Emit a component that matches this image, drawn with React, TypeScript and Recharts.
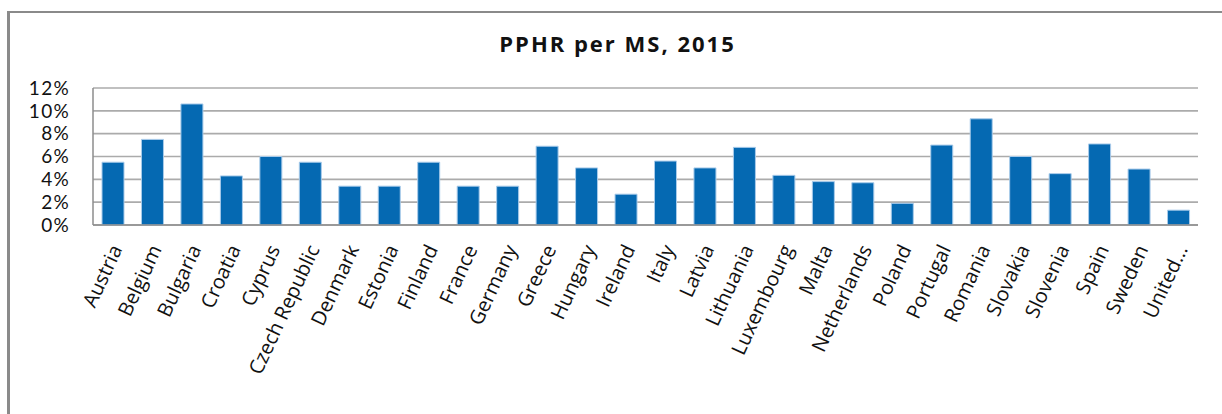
import React from "react";
import { BarChart, Bar, XAxis, YAxis, CartesianGrid } from "recharts";

const countries = [
  "Austria", "Belgium", "Bulgaria", "Croatia", "Cyprus", "Czech Republic", "Denmark",
  "Estonia", "Finland", "France", "Germany", "Greece", "Hungary", "Ireland", "Italy",
  "Latvia", "Lithuania", "Luxembourg", "Malta", "Netherlands", "Poland", "Portugal",
  "Romania", "Slovakia", "Slovenia", "Spain", "Sweden", "United Kingdom",
];

const tickLabels = [
  "Austria", "Belgium", "Bulgaria", "Croatia", "Cyprus", "Czech Republic", "Denmark",
  "Estonia", "Finland", "France", "Germany", "Greece", "Hungary", "Ireland", "Italy",
  "Latvia", "Lithuania", "Luxembourg", "Malta", "Netherlands", "Poland", "Portugal",
  "Romania", "Slovakia", "Slovenia", "Spain", "Sweden", "United...",
];

const pphr = [
  5.5, 7.5, 10.6, 4.3, 6.0, 5.5, 3.4,
  3.4, 5.5, 3.4, 3.4, 6.9, 5.0, 2.7, 5.6,
  5.0, 6.8, 4.35, 3.8, 3.7, 1.9, 7.0,
  9.3, 6.0, 4.5, 7.1, 4.9, 1.3,
];

const yTicks = [0, 2, 4, 6, 8, 10, 12];

const data = countries.map((c, i) => ({ country: c, label: tickLabels[i], value: pphr[i] }));

const FONT = "'Open Sans', sans-serif";

const XTick = (props: any) => {
  const { x, y, payload } = props;
  const label = tickLabels[payload.index] ?? payload.value;
  return (
    <g transform={`translate(${x + 10},${y + 24})`}>
      <text
        transform="rotate(-65)"
        textAnchor="end"
        fontFamily={FONT}
        fontSize={20}
        fill="#111"
      >
        {label}
      </text>
    </g>
  );
};

export default function App() {
  return (
    <div style={{ position: "absolute", left: 0, top: 0, width: 1222, height: 414, background: "#fff", overflow: "hidden" }}>
      <div
        style={{
          position: "absolute",
          left: 7,
          top: 11,
          width: 1222,
          height: 420,
          borderLeft: "3px solid #8a8a8a",
          borderTop: "2px solid #8a8a8a",
        }}
      />
      <div
        style={{
          position: "absolute",
          left: 0,
          width: 1235,
          top: 28,
          textAlign: "center",
          fontFamily: FONT,
          fontWeight: 700,
          fontSize: 22,
          letterSpacing: 2,
          color: "#111",
          lineHeight: "30px",
        }}
      >
        PPHR per MS, 2015
      </div>
      <div style={{ position: "absolute", left: 0, top: 0 }}>
        <BarChart
          width={1222}
          height={414}
          data={data}
          margin={{ top: 88, right: 24, bottom: 0, left: 0 }}
          barSize={22}
        >
          <CartesianGrid vertical={false} stroke="#ababab" strokeWidth={1.6} />
          <YAxis
            type="number"
            domain={[0, 12]}
            ticks={yTicks}
            width={93}
            tickLine={false}
            tickSize={0}
            tickMargin={23}
            axisLine={{ stroke: "#8c8c8c", strokeWidth: 1.5 }}
            tickFormatter={(v: number) => `${v}%`}
            tick={{ fontFamily: "Lato, sans-serif", fontSize: 19, letterSpacing: 1.3, fill: "#111" }}
            interval={0}
          />
          <XAxis
            dataKey="country"
            height={189}
            interval={0}
            tickLine={false}
            tickSize={0}
            tickMargin={0}
            axisLine={{ stroke: "#8c8c8c", strokeWidth: 1.5 }}
            tick={<XTick />}
          />
          <Bar
            dataKey="value"
            fill="#0569b2"
            stroke="#a9cbea"
            strokeWidth={1}
            isAnimationActive={false}
          />
        </BarChart>
      </div>
    </div>
  );
}
